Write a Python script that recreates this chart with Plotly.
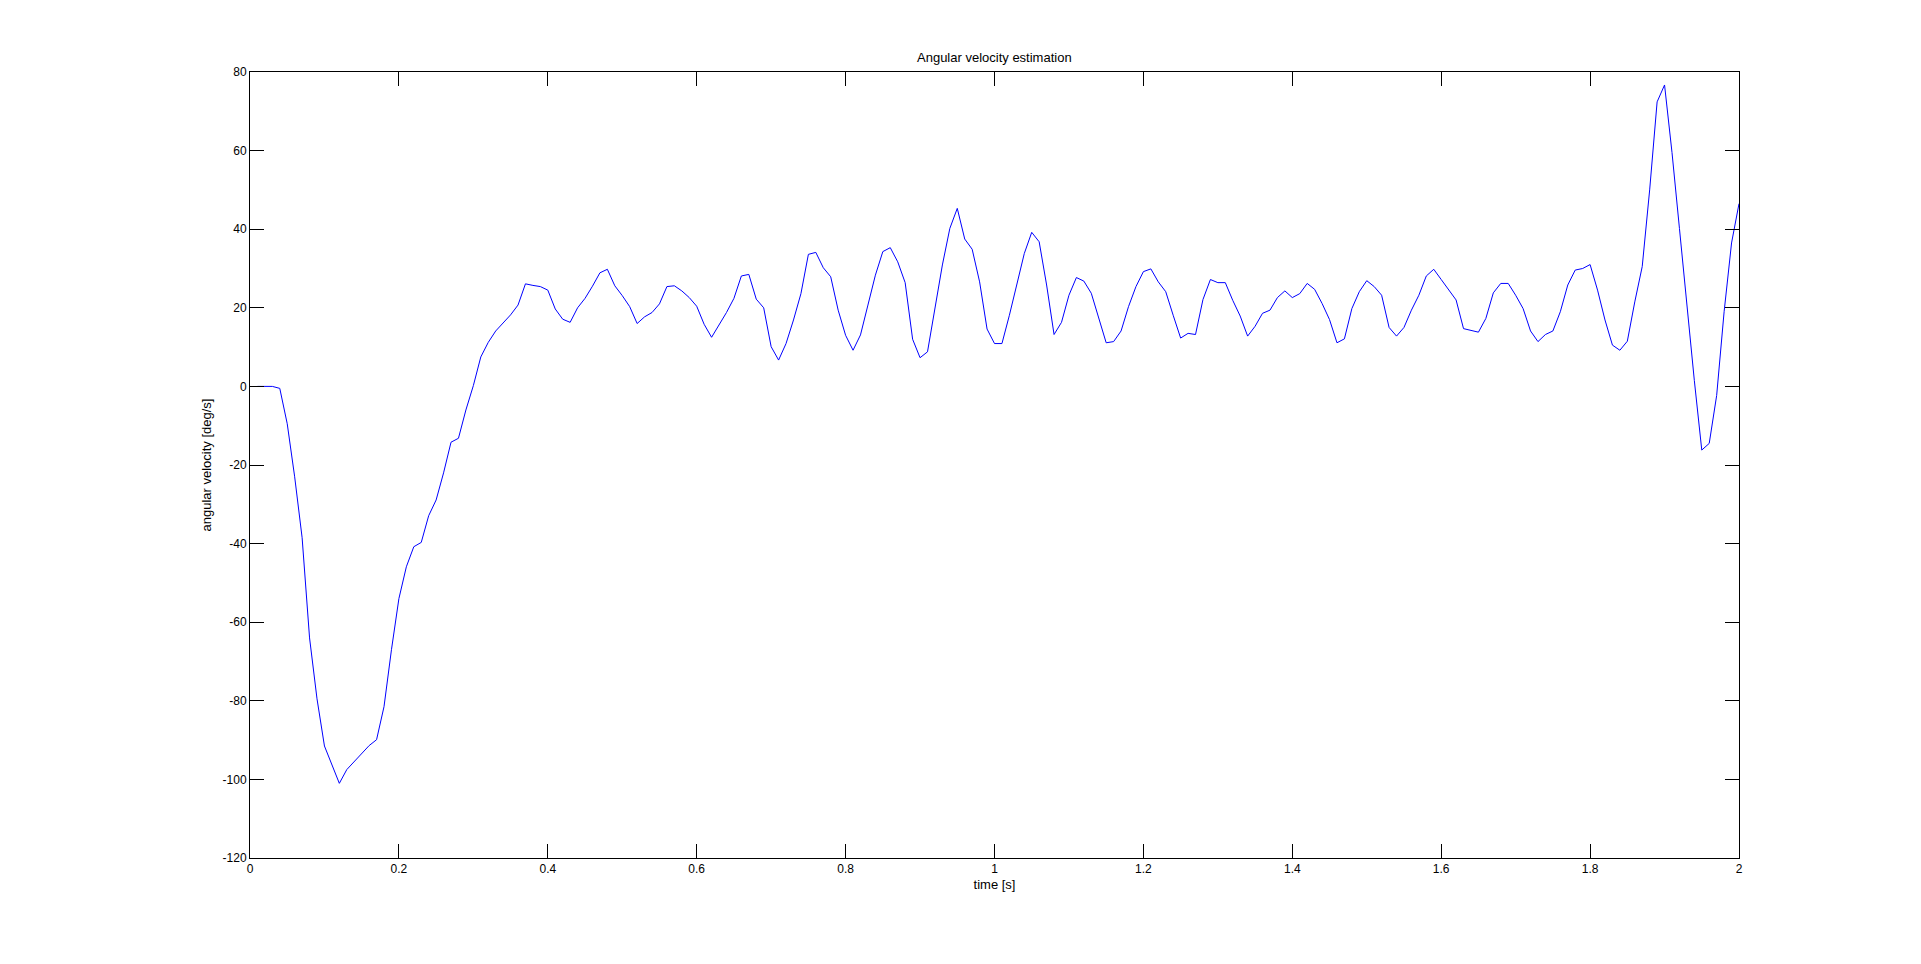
import plotly.graph_objects as go

# sample times (s): 0.01 .. 2.00 step 0.01
time_s = [round(0.01 * i, 2) for i in range(1, 201)]

# angular velocity [deg/s], 10 samples per row
omega = [
    0, 0, 0, -0.5, -9.5, -23, -38.5, -64, -79.5, -91.5,
    -96.5, -101, -97.5, -95.5, -93.6, -91.4, -89.9, -81.5, -67, -54,
    -45.9, -40.8, -39.7, -32.9, -28.9, -22, -14.2, -13.2, -6, 0.2,
    7.5, 11.2, 14.1, 16.2, 18.2, 20.7, 26.1, 25.7, 25.4, 24.5,
    19.7, 17.1, 16.3, 20.0, 22.4, 25.5, 28.9, 29.8, 25.6, 23.1,
    20.3, 16.0, 17.7, 18.8, 21.0, 25.4, 25.6, 24.3, 22.6, 20.4,
    15.8, 12.5, 15.6, 18.8, 22.4, 28.1, 28.5, 22.2, 20.0, 10.1,
    6.7, 10.9, 16.9, 23.6, 33.6, 34.1, 30.2, 27.9, 19.4, 13.0,
    9.2, 13.1, 20.7, 28.3, 34.3, 35.3, 31.7, 26.4, 12.0, 7.3,
    8.8, 19.8, 30.9, 40.2, 45.3, 37.5, 34.9, 26.6, 14.6, 10.9,
    10.9, 18.1, 25.8, 33.8, 39.2, 36.8, 25.8, 13.2, 16.3, 23.2,
    27.7, 26.8, 23.7, 17.3, 11.1, 11.4, 14.1, 20.3, 25.4, 29.2,
    29.9, 26.6, 24.1, 18.1, 12.3, 13.5, 13.2, 22.1, 27.2, 26.4,
    26.4, 21.9, 17.9, 12.8, 15.3, 18.6, 19.4, 22.6, 24.3, 22.6,
    23.6, 26.2, 24.7, 21.1, 17.0, 11.1, 12.1, 19.8, 24.1, 26.9,
    25.4, 23.2, 15.0, 12.8, 15.0, 19.4, 23.2, 28.1, 29.8, 27.2,
    24.5, 22.0, 14.7, 14.3, 13.8, 17.3, 23.8, 26.2, 26.2, 23.2,
    19.8, 14.1, 11.4, 13.2, 14.1, 19.0, 25.8, 29.6, 30.0, 31.0,
    24.5, 16.9, 10.5, 9.2, 11.5, 21.5, 30.5, 50.0, 72.4, 76.7,
    59.5, 40.2, 20.0, 1.5, -16.2, -14.5, -2.3, 19.0, 36.5, 46.5,
]

x_ticks = [0, 0.2, 0.4, 0.6, 0.8, 1, 1.2, 1.4, 1.6, 1.8, 2]
x_tick_labels = ["0", "0.2", "0.4", "0.6", "0.8", "1", "1.2", "1.4", "1.6", "1.8", "2"]
y_ticks = [-120, -100, -80, -60, -40, -20, 0, 20, 40, 60, 80]
y_tick_labels = ["-120", "-100", "-80", "-60", "-40", "-20", "0", "20", "40", "60", "80"]

title_text = "Angular velocity estimation"
x_label = "time [s]"
y_label = "angular velocity [deg/s]"

FONT = "Liberation Sans, Arial, Helvetica, sans-serif"

fig = go.Figure()
fig.add_trace(go.Scatter(
    x=time_s, y=omega, mode="lines",
    line=dict(color="#0000ff", width=1),
    showlegend=False, hoverinfo="x+y",
))

axis_common = dict(
    showline=True, linecolor="black", linewidth=1,
    mirror="ticks", ticks="inside", ticklen=14, tickwidth=1, tickcolor="black",
    showgrid=False, zeroline=False,
    tickfont=dict(family=FONT, size=12, color="black"),
)

fig.update_layout(
    width=1921, height=964, autosize=False,
    margin=dict(l=250, r=182, t=72, b=106, pad=0),
    paper_bgcolor="white", plot_bgcolor="white",
    font=dict(family=FONT, size=12, color="black"),
    xaxis=dict(range=[0, 2], tickmode="array", tickvals=x_ticks, ticktext=x_tick_labels,
               title=dict(text=x_label, font=dict(family=FONT, size=13), standoff=4),
               **axis_common),
    yaxis=dict(range=[-120, 80], tickmode="array", tickvals=y_ticks, ticktext=y_tick_labels,
               title=dict(text=y_label, font=dict(family=FONT, size=13), standoff=8),
               **axis_common),
    annotations=[dict(
        text=title_text, xref="paper", yref="paper", x=0.5, y=1,
        yshift=15, xanchor="center", yanchor="middle", showarrow=False,
        font=dict(family=FONT, size=13, color="black"),
    )],
)

fig.write_html(
    "out.html",
    config={"displayModeBar": False},
    post_script="document.body.style.margin='0';document.body.style.overflow='hidden';",
)
